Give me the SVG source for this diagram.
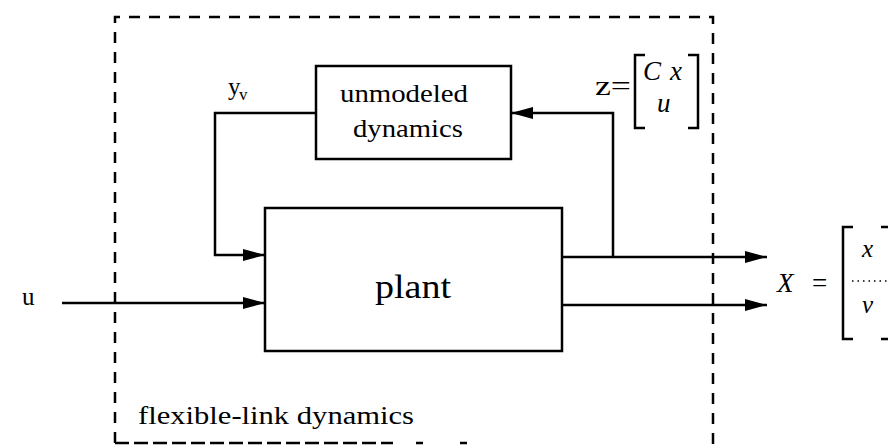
<svg xmlns="http://www.w3.org/2000/svg" width="888" height="447" viewBox="0 0 888 447">
<style>
.ln{fill:none;stroke:#000;stroke-width:2.5}
.box{fill:#fff;stroke:#000;stroke-width:2.5}
.dash{fill:none;stroke:#000;stroke-width:2.5;stroke-dasharray:11 9}
.t{font-family:"Liberation Serif","Times New Roman",serif;fill:#000}
.i{font-style:italic}
</style>
<defs>
<marker id="ah" markerWidth="22" markerHeight="12" refX="22" refY="6" orient="auto" markerUnits="userSpaceOnUse">
<path d="M0,0 L22,6 L0,12 Z" fill="#000"/>
</marker>
</defs>
<rect width="888" height="447" fill="#fff"/>
<g id="boundary">
<path class="dash" d="M115,443 V17 H713 V447"/>
<path class="ln" d="M115,443 H393" style="stroke-dasharray:14 5"/>
<path class="ln" d="M416,443 H423 M460,443 H467"/>
<text class="t" x="138" y="424" font-size="25" textLength="276" lengthAdjust="spacingAndGlyphs">flexible-link  dynamics</text>
</g>
<g id="connectors">
<path class="ln" d="M62,303 H265" marker-end="url(#ah)"/>
<path class="ln" d="M316,113 H215 V255 H265" marker-end="url(#ah)"/>
<path class="ln" d="M562,257 H767" marker-end="url(#ah)"/>
<path class="ln" d="M562,305 H767" marker-end="url(#ah)"/>
<path class="ln" d="M613,257 V113 H511" marker-end="url(#ah)"/>
</g>
<g id="unmodeled">
<rect class="box" x="316" y="66" width="195" height="93"/>
<text class="t" x="340" y="102" font-size="25" textLength="128" lengthAdjust="spacingAndGlyphs">unmodeled</text>
<text class="t" x="353" y="137" font-size="25" textLength="110" lengthAdjust="spacingAndGlyphs">dynamics</text>
</g>
<g id="plant">
<rect class="box" x="265" y="208" width="297" height="143"/>
<text class="t" x="375" y="298" font-size="34" textLength="76" lengthAdjust="spacingAndGlyphs">plant</text>
</g>
<g id="labels">
<text class="t" x="22" y="305" font-size="25">u</text>
<text class="t" x="228" y="95" font-size="25">y</text>
<text class="t" x="239" y="100" font-size="17">v</text>
<text class="t" x="595" y="95" font-size="27" textLength="36" lengthAdjust="spacingAndGlyphs">z=</text>
<path class="ln" d="M645,55 H635 V128 H645 M688,55 H698 V128 H688"/>
<text class="t i" x="643" y="80" font-size="27">C</text>
<text class="t i" x="670" y="80" font-size="27">x</text>
<text class="t i" x="657" y="112" font-size="27">u</text>
<text class="t i" x="777" y="292" font-size="27">X</text>
<text class="t" x="812" y="292" font-size="27">=</text>
<path class="ln" d="M853,227 H843 V339 H853 M881,227 H888 M881,339 H888"/>
<text class="t i" x="862" y="257" font-size="25">x</text>
<path d="M852,281 H888" fill="none" stroke="#000" stroke-width="1.5" stroke-dasharray="1.5 4"/>
<text class="t i" x="862" y="313" font-size="25">v</text>
</g>
</svg>
